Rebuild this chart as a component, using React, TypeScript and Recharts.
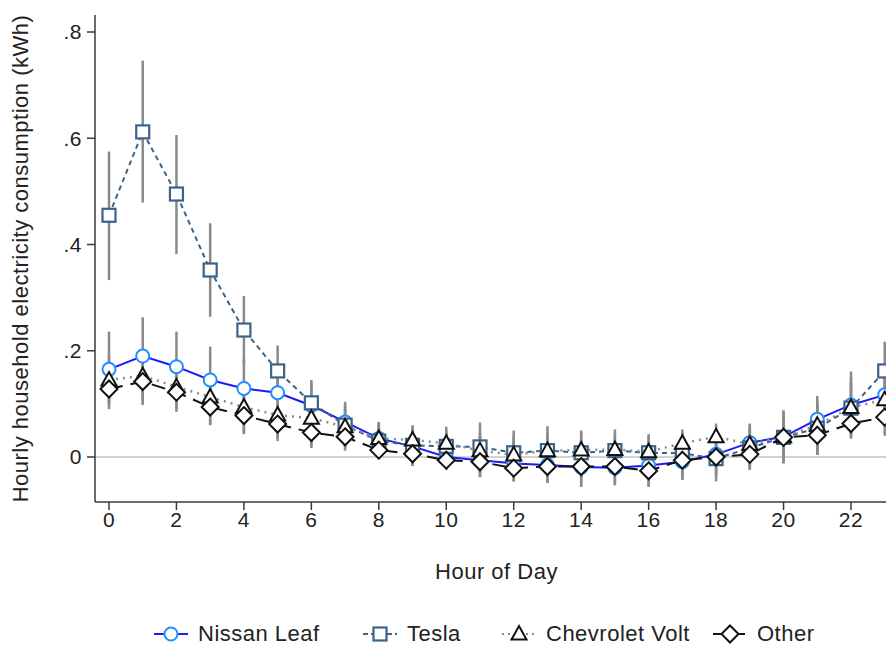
import React from 'react'
import { LineChart, Line, XAxis, YAxis, ErrorBar, ReferenceLine } from 'recharts'

const hours = [0, 1, 2, 3, 4, 5, 6, 7, 8, 9, 10, 11, 12, 13, 14, 15, 16, 17, 18, 19, 20, 21, 22, 23]
const xTicks = [0, 2, 4, 6, 8, 10, 12, 14, 16, 18, 20, 22]
const yTicks = [0, 0.2, 0.4, 0.6, 0.8]

const leaf = [0.165, 0.19, 0.17, 0.145, 0.129, 0.121, 0.097, 0.066, 0.035, 0.02, 0.0, -0.006, -0.012, -0.015, -0.019, -0.02, -0.016, -0.009, 0.005, 0.027, 0.038, 0.071, 0.098, 0.117]
const leafLo = [0.095, 0.12, 0.105, 0.085, 0.075, 0.07, 0.05, 0.03, 0.005, -0.017, -0.024, -0.038, -0.046, -0.049, -0.056, -0.053, -0.056, -0.043, -0.03, -0.024, -0.012, 0.004, 0.04, 0.075]
const leafHi = [0.236, 0.263, 0.236, 0.208, 0.185, 0.17, 0.14, 0.104, 0.066, 0.055, 0.045, 0.04, 0.03, 0.03, 0.025, 0.02, 0.025, 0.03, 0.04, 0.063, 0.088, 0.115, 0.161, 0.16]

const tesla = [0.455, 0.612, 0.495, 0.352, 0.239, 0.162, 0.102, 0.06, 0.03, 0.022, 0.02, 0.019, 0.008, 0.012, 0.008, 0.012, 0.008, 0.007, -0.003, 0.017, 0.037, 0.054, 0.092, 0.162]
const teslaLo = [0.333, 0.479, 0.382, 0.264, 0.175, 0.11, 0.055, 0.02, -0.004, -0.012, -0.018, -0.03, -0.035, -0.035, -0.04, -0.035, -0.04, -0.035, -0.046, -0.02, -0.012, 0.005, 0.035, 0.105]
const teslaHi = [0.575, 0.746, 0.606, 0.44, 0.303, 0.21, 0.145, 0.1, 0.066, 0.06, 0.057, 0.065, 0.05, 0.058, 0.05, 0.052, 0.043, 0.045, 0.04, 0.055, 0.085, 0.105, 0.15, 0.217]

const volt = [0.145, 0.153, 0.132, 0.113, 0.094, 0.079, 0.073, 0.057, 0.035, 0.032, 0.026, 0.012, 0.004, 0.012, 0.013, 0.014, 0.01, 0.026, 0.038, 0.024, 0.038, 0.06, 0.093, 0.108]
const voltLo = [0.1, 0.1, 0.09, 0.06, 0.045, 0.035, 0.02, 0.015, 0.0, -0.005, -0.01, -0.02, -0.03, -0.025, -0.03, -0.03, -0.03, -0.015, -0.01, -0.015, 0.0, 0.015, 0.045, 0.06]
const voltHi = [0.19, 0.2, 0.18, 0.16, 0.14, 0.12, 0.11, 0.09, 0.06, 0.055, 0.05, 0.045, 0.04, 0.045, 0.045, 0.045, 0.04, 0.052, 0.063, 0.06, 0.075, 0.1, 0.14, 0.15]

const other = [0.128, 0.142, 0.122, 0.094, 0.078, 0.062, 0.046, 0.038, 0.013, 0.006, -0.006, -0.009, -0.021, -0.018, -0.018, -0.018, -0.026, -0.006, 0.0, 0.005, 0.037, 0.041, 0.063, 0.075]
const otherLo = [0.09, 0.098, 0.085, 0.06, 0.043, 0.03, 0.017, 0.012, -0.004, -0.017, -0.024, -0.038, -0.046, -0.049, -0.056, -0.053, -0.056, -0.043, -0.035, -0.024, 0.0, 0.004, 0.035, 0.04]
const otherHi = [0.165, 0.185, 0.16, 0.13, 0.115, 0.095, 0.08, 0.065, 0.035, 0.03, 0.015, 0.02, 0.005, 0.012, 0.02, 0.017, 0.005, 0.03, 0.035, 0.035, 0.075, 0.08, 0.09, 0.11]

const FONT = '"Liberation Sans", Arial, sans-serif'
const AXIS = '#3a3a3a'
const CI = '#8a8a8a'
const LEAF_LINE = '#1a1aff'
const LEAF_MARK = '#1e90ff'
const TESLA = '#3b6389'
const VOLT = '#8c8c8c'
const OTHER = '#111111'

const err = (v: number[], lo: number[], hi: number[], i: number) => [v[i] - lo[i], hi[i] - v[i]]

const table = hours.map((h, i) => ({
  hour: h,
  leaf: leaf[i],
  tesla: tesla[i],
  volt: volt[i],
  other: other[i],
  leafErr: err(leaf, leafLo, leafHi, i),
  teslaErr: err(tesla, teslaLo, teslaHi, i),
  voltErr: err(volt, voltLo, voltHi, i),
  otherErr: err(other, otherLo, otherHi, i),
}))

const Circle = ({ cx, cy }: { cx: number; cy: number }) => (
  <circle cx={cx} cy={cy} r={6.5} fill="#fff" stroke={LEAF_MARK} strokeWidth={2} />
)
const Square = ({ cx, cy }: { cx: number; cy: number }) => (
  <rect x={cx - 6.5} y={cy - 6.5} width={13} height={13} fill="#fff" stroke={TESLA} strokeWidth={2.2} />
)
const Triangle = ({ cx, cy }: { cx: number; cy: number }) => (
  <path d={`M${cx},${cy - 8} L${cx + 7.5},${cy + 5.5} L${cx - 7.5},${cy + 5.5} Z`} fill="#fff" stroke={OTHER} strokeWidth={2} />
)
const Diamond = ({ cx, cy }: { cx: number; cy: number }) => (
  <path d={`M${cx},${cy - 8.5} L${cx + 8.5},${cy} L${cx},${cy + 8.5} L${cx - 8.5},${cy} Z`} fill="#fff" stroke={OTHER} strokeWidth={2} />
)

const dotOf = (Shape: React.FC<{ cx: number; cy: number }>) => (p: any) => (
  <Shape key={`d-${p.index}`} cx={p.cx} cy={p.cy} />
)

const fmtY = (v: number) => (v === 0 ? '0' : String(Number(v.toFixed(1))).replace(/^0/, ''))

const tickStyle = { fill: '#222', fontSize: 21, fontFamily: FONT, letterSpacing: 0.5 }

const legendItems = [
  { label: 'Nissan Leaf', Shape: Circle, color: LEAF_LINE, dash: undefined as string | undefined, left: 153 },
  { label: 'Tesla', Shape: Square, color: TESLA, dash: '5 3', left: 362 },
  { label: 'Chevrolet Volt', Shape: Triangle, color: VOLT, dash: '2 4', left: 501 },
  { label: 'Other', Shape: Diamond, color: OTHER, dash: '8 4', left: 712 },
]

const Legend = () => (
  <div style={{ position: 'absolute', left: 0, top: 621, width: 886, height: 26 }}>
    {legendItems.map(it => (
      <div key={it.label} style={{ position: 'absolute', left: it.left, top: 0, display: 'flex', alignItems: 'center', height: 26 }}>
        <svg width={36} height={26}>
          <line x1={1} y1={13} x2={35} y2={13} stroke={it.color} strokeWidth={2} strokeDasharray={it.dash} />
          <it.Shape cx={18} cy={13} />
        </svg>
        <span style={{ marginLeft: 9, fontSize: 22, letterSpacing: 0.5, fontFamily: FONT, color: '#222', whiteSpace: 'nowrap' }}>{it.label}</span>
      </div>
    ))}
  </div>
)

export default function App() {
  return (
    <div style={{ position: 'absolute', left: 0, top: 0, width: 886, height: 646, background: '#fff', overflow: 'hidden' }}>
      <LineChart width={886} height={646} data={table} margin={{ top: 15, right: 0, left: 0, bottom: 0 }}>
        <XAxis
          type="number"
          dataKey="hour"
          domain={[-0.415, 23.038]}
          allowDataOverflow
          ticks={xTicks}
          height={144}
          tickSize={8}
          tickMargin={2}
          tick={tickStyle}
          axisLine={{ stroke: AXIS, strokeWidth: 1.5 }}
          tickLine={{ stroke: AXIS, strokeWidth: 1.5 }}
          label={{ value: 'Hour of Day', position: 'insideTop', offset: 61, fill: '#222', fontSize: 22, fontFamily: FONT, dx: 6, style: { letterSpacing: 0.5 } }}
        />
        <YAxis
          type="number"
          domain={[-0.0847, 0.832]}
          allowDataOverflow
          ticks={yTicks}
          tickFormatter={fmtY}
          width={95}
          tickSize={8}
          tickMargin={5}
          tick={tickStyle}
          axisLine={{ stroke: AXIS, strokeWidth: 1.5 }}
          tickLine={{ stroke: AXIS, strokeWidth: 1.5 }}
          label={{
            value: 'Hourly household electricity consumption (kWh)',
            angle: -90,
            position: 'insideLeft',
            offset: 20,
            fill: '#222',
            fontSize: 22,
            fontFamily: FONT,
            style: { textAnchor: 'middle', letterSpacing: 0.5 },
          }}
        />
        <ReferenceLine y={0} stroke="#c4c4c4" strokeWidth={1.5} />

        {/* confidence intervals, drawn first so markers sit on top */}
        {(['leaf', 'tesla', 'volt', 'other'] as const).map(k => (
          <Line key={`ci-${k}`} dataKey={k} stroke="none" dot={false} activeDot={false} legendType="none" isAnimationActive={false}>
            <ErrorBar dataKey={`${k}Err`} width={0} stroke={CI} strokeWidth={2.5} direction="y" isAnimationActive={false} />
          </Line>
        ))}

        <Line dataKey="leaf" type="linear" stroke={LEAF_LINE} strokeWidth={2} dot={dotOf(Circle)} activeDot={false} isAnimationActive={false} />
        <Line dataKey="tesla" type="linear" stroke={TESLA} strokeWidth={2} strokeDasharray="5 4" dot={dotOf(Square)} activeDot={false} isAnimationActive={false} />
        <Line dataKey="volt" type="linear" stroke={VOLT} strokeWidth={2.5} strokeDasharray="2 5" dot={dotOf(Triangle)} activeDot={false} isAnimationActive={false} />
        <Line dataKey="other" type="linear" stroke={OTHER} strokeWidth={2} strokeDasharray="14 8" dot={dotOf(Diamond)} activeDot={false} isAnimationActive={false} />
      </LineChart>
      <Legend />
    </div>
  )
}
